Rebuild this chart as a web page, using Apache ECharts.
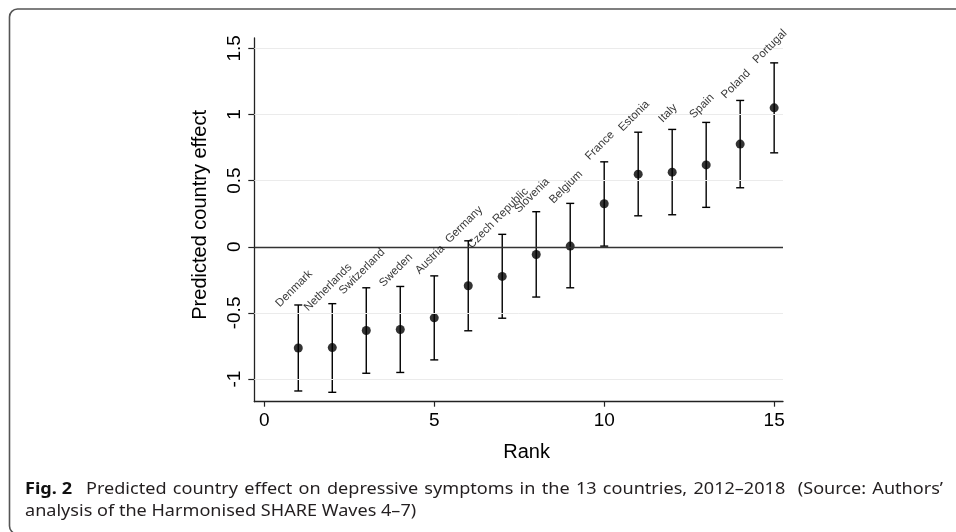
<!DOCTYPE html>
<html><head><meta charset="utf-8">
<script src="https://cdn.jsdelivr.net/npm/echarts@6/dist/echarts.min.js"></script>
<style>html,body{margin:0;padding:0;background:#fff}#c{width:956px;height:532px}</style>
</head><body><div id="c"></div>
<script>
const countries = ['Denmark','Netherlands','Switzerland','Sweden','Austria','Germany','Czech Republic','Slovenia','Belgium','France','Estonia','Italy','Spain','Poland','Portugal'];
const ranks = [1,2,3,4,5,6,7,8,9,10,11,12,13,14,15];
const estimates = [-0.765,-0.762,-0.633,-0.625,-0.537,-0.295,-0.224,-0.058,0.005,0.325,0.549,0.564,0.619,0.776,1.05];
const lower = [-1.09,-1.10,-0.956,-0.95,-0.855,-0.635,-0.54,-0.38,-0.31,0.005,0.234,0.242,0.298,0.446,0.71];
const upper = [-0.44,-0.43,-0.31,-0.30,-0.22,0.045,0.094,0.265,0.328,0.642,0.866,0.887,0.94,1.106,1.39];
const xTicks = [0,5,10,15];
const yTicks = [-1,-0.5,0,0.5,1,1.5];
const xTitle = 'Rank';
const yTitle = 'Predicted country effect';
const captionBold = 'Fig. 2';
const captionLine1 = 'Predicted country effect on depressive symptoms in the 13 countries, 2012\u20132018  (Source: Authors\u2019';
const captionLine2 = 'analysis of the Harmonised SHARE Waves 4\u20137)';

const chart = echarts.init(document.getElementById('c'), null, {renderer:'canvas'});

const ctx = document.createElement('canvas').getContext('2d');
function tw(font, s){ ctx.font = font; return ctx.measureText(s).width; }
const capFont = '16px "Noto Sans"';
const capBoldFont = 'bold 16px "Noto Sans"';
const sBold = 47 / tw(capBoldFont, captionBold);
// horizontal scale fitted on "analysis of the Harmonised SHARE" (x 25 -> 317 in the reference)
const sReg = (317 - 25) / tw(capFont, 'analysis of the Harmonised SHARE');

// justified first caption line (words spread between x=86 and x=943)
const words1 = captionLine1.split(' ');
const wordW = words1.map(w => tw(capFont, w) * sReg);
const gap1 = (943 - 86 - wordW.reduce((a,b)=>a+b,0)) / (words1.length - 1);
const captionEls = [];
let cx = 86;
words1.forEach((w,i) => {
  if (w) captionEls.push({type:'text', x:cx, y:489, scaleX:sReg, originX:0, silent:true,
    style:{text:w, font:capFont, fill:'#231f20', textVerticalAlign:'middle'}});
  cx += wordW[i] + gap1;
});

const axisColor = '#222';
const tickFont = {fontSize:19, fontFamily:'"Liberation Sans", Arial, sans-serif', color:'#000'};

const option = {
  animation:false,
  grid:{left:254.3, top:38, right:173, bottom:130.3, containLabel:false},
  xAxis:{
    type:'value', min:-0.294, max:15.26,
    name:xTitle, nameLocation:'middle', nameGap:41,
    nameTextStyle:{fontSize:20, fontFamily:'"Liberation Sans", Arial, sans-serif', color:'#000', padding:[0,0,0,16]},
    axisLine:{show:true, onZero:false, lineStyle:{color:axisColor, width:1.3}},
    axisTick:{show:true, length:5, customValues:xTicks, lineStyle:{color:axisColor, width:1.2}},
    axisLabel:Object.assign({margin:10, customValues:xTicks, formatter:v=>String(v)}, tickFont),
    splitLine:{show:false}
  },
  yAxis:{
    type:'value', min:-1.171, max:1.578,
    name:yTitle, nameLocation:'middle', nameGap:44, nameRotate:90,
    nameTextStyle:{fontSize:20, fontFamily:'"Liberation Sans", Arial, sans-serif', color:'#000', padding:[0,0,0,10]},
    axisLine:{show:true, onZero:false, lineStyle:{color:axisColor, width:1.3}},
    axisTick:{show:true, length:6, customValues:yTicks, lineStyle:{color:axisColor, width:1.2}},
    axisLabel:Object.assign({margin:10, rotate:90, customValues:yTicks, formatter:v=>String(v)}, tickFont),
    splitLine:{show:false}
  },
  graphic:[
    {type:'rect', shape:{x:9.5, y:9, width:1000, height:525, r:8}, style:{fill:'none', stroke:'#555', lineWidth:1.6}, silent:true},
    {type:'text', x:25, y:489, scaleX:sBold, originX:0, silent:true, style:{text:captionBold, font:capBoldFont, fill:'#111', textVerticalAlign:'middle'}},
    {type:'text', x:25, y:511, scaleX:sReg, originX:0, silent:true, style:{text:captionLine2, font:capFont, fill:'#231f20', textVerticalAlign:'middle'}}
  ].concat(captionEls),
  series:[
    {
      type:'line', z:0, data:[], silent:true,
      markLine:{silent:true, symbol:'none', animation:false, label:{show:false},
        lineStyle:{color:'#ebebeb', width:1, type:'solid'},
        data: yTicks.filter(v=>v!==0).map(v=>({yAxis:v})).concat([{yAxis:0, lineStyle:{color:'#333', width:1.4, type:'solid'}}])
      }
    },
    {
      type:'custom', z:3, silent:true,
      data: ranks.map((r,i)=>[r, lower[i], upper[i]]),
      encode:{x:0, y:[1,2]},
      renderItem:function(params, api){
        const x = api.value(0), lo = api.value(1), hi = api.value(2);
        const p1 = api.coord([x, lo]), p2 = api.coord([x, hi]);
        const w = 4, st = {stroke:'#000', lineWidth:1.4};
        return {type:'group', children:[
          {type:'line', shape:{x1:p1[0], y1:p1[1], x2:p2[0], y2:p2[1]}, style:st},
          {type:'line', shape:{x1:p1[0]-w, y1:p1[1], x2:p1[0]+w, y2:p1[1]}, style:st},
          {type:'line', shape:{x1:p2[0]-w, y1:p2[1], x2:p2[0]+w, y2:p2[1]}, style:st}
        ]};
      }
    },
    {
      type:'scatter', z:4, silent:true, symbol:'circle', symbolSize:9,
      itemStyle:{color:'#000'},
      data: ranks.map((r,i)=>[r, estimates[i]])
    },
    {
      type:'scatter', z:5, silent:true, symbolSize:0,
      data: ranks.map((r,i)=>[r, upper[i]]),
      label:{show:true, position:'top', distance:12, rotate:45,
        formatter:p=>countries[p.dataIndex],
        fontSize:11.5, fontFamily:'"Liberation Sans", Arial, sans-serif', color:'#000'}
    }
  ]
};
chart.setOption(option);
</script></body></html>
